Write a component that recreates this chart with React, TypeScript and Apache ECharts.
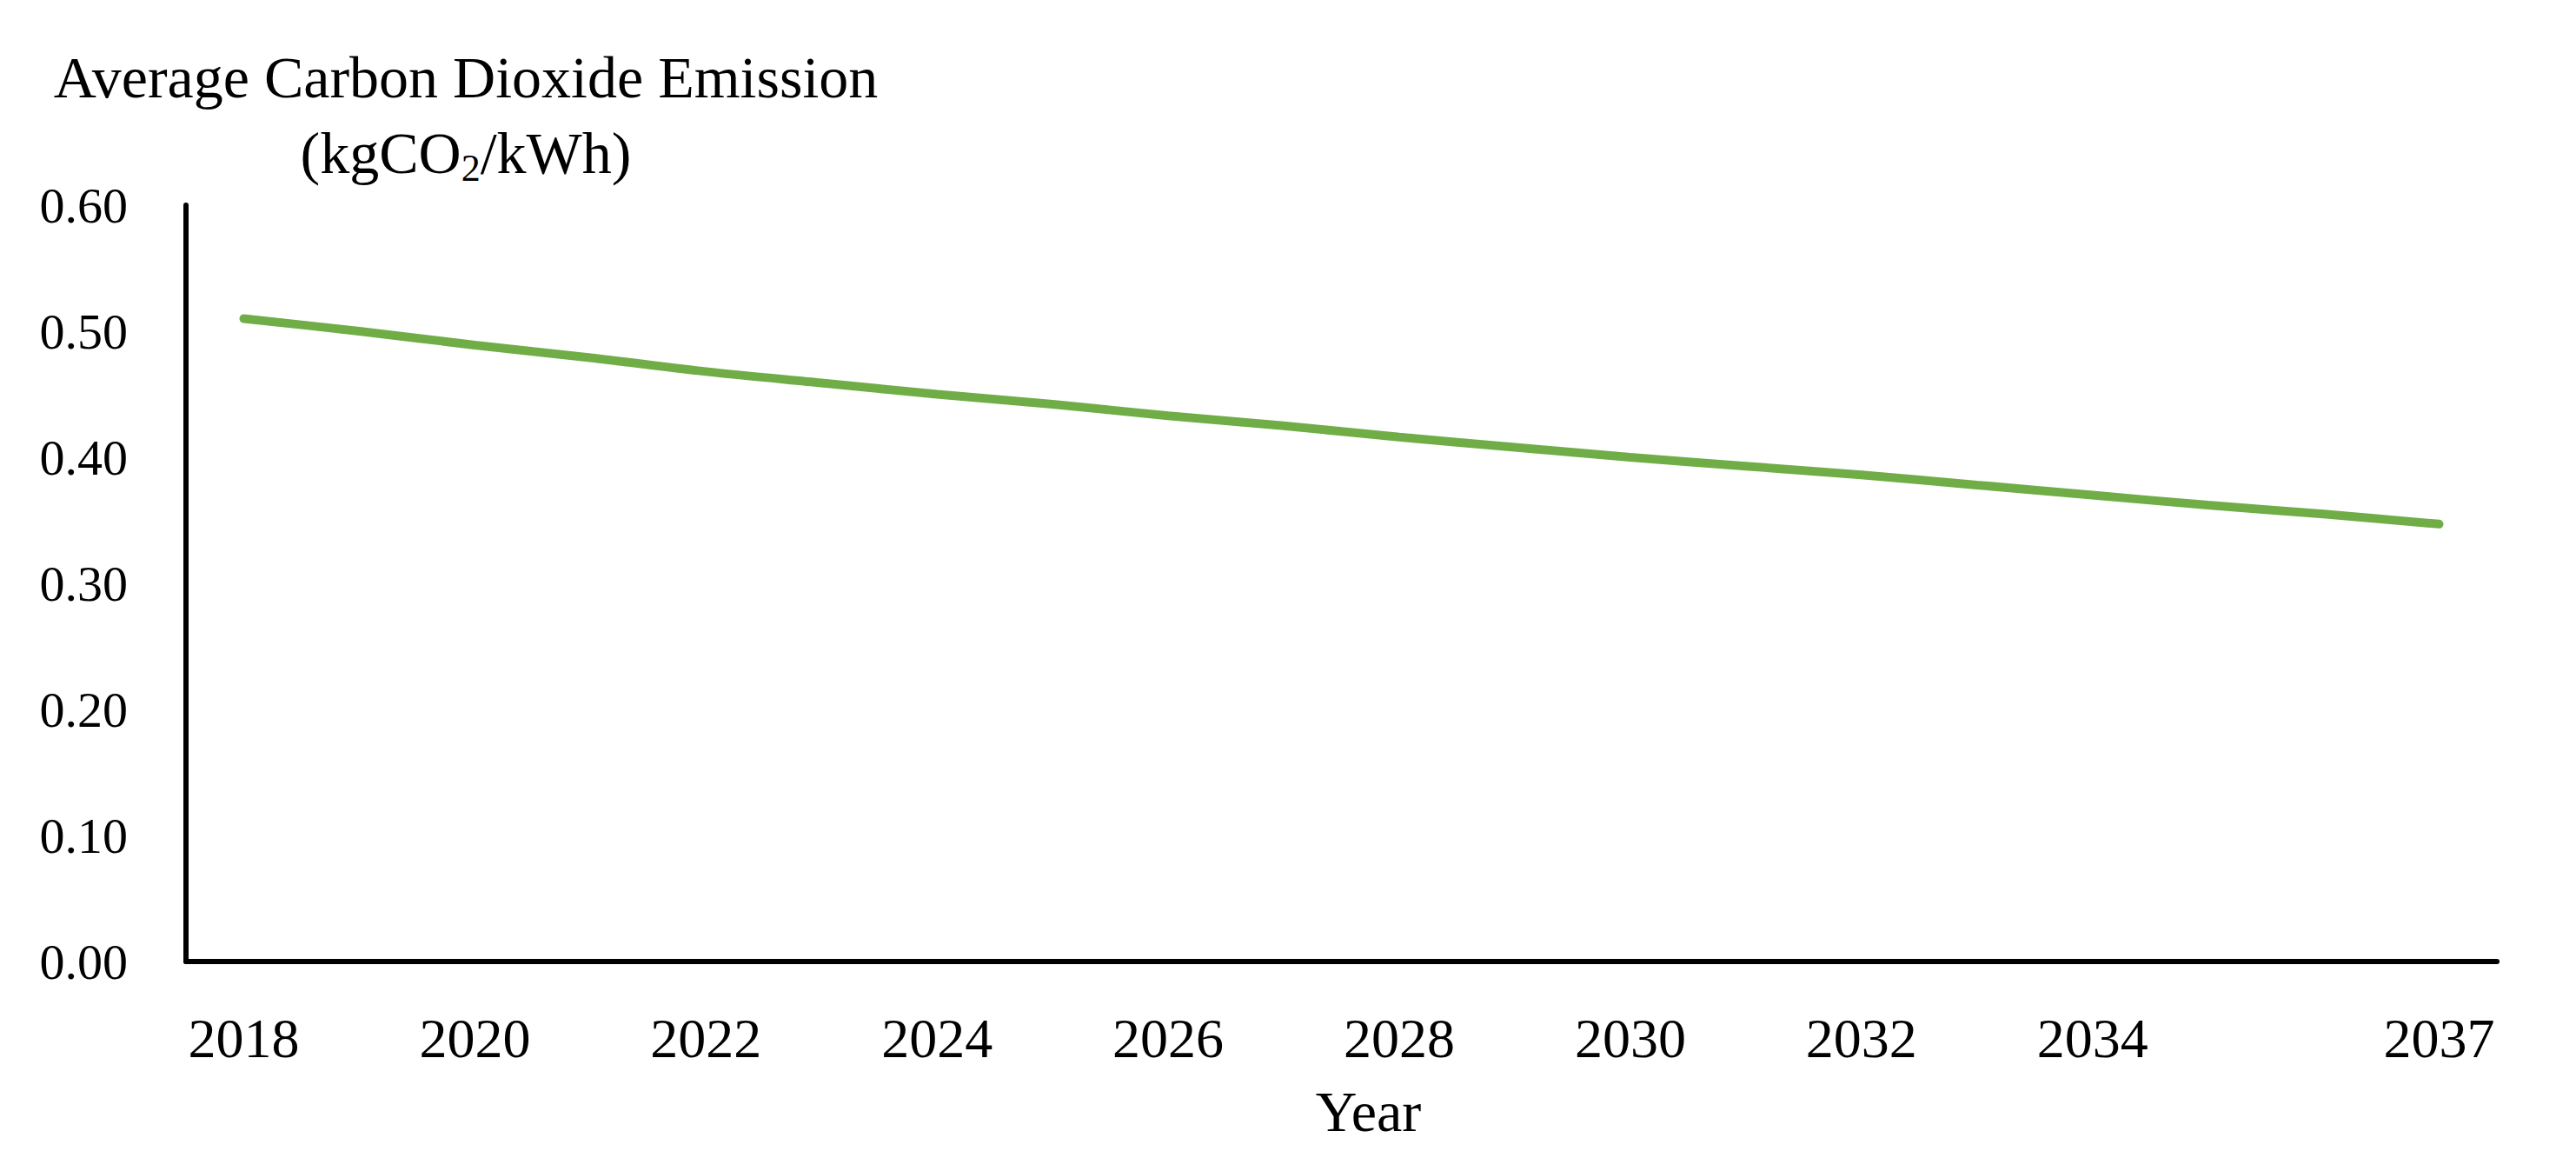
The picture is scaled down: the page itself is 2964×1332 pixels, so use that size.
import React, { useEffect, useRef } from "react";
import * as echarts from "echarts";

const years = [
  "2018", "2019", "2020", "2021", "2022", "2023", "2024", "2025", "2026", "2027",
  "2028", "2029", "2030", "2031", "2032", "2033", "2034", "2035", "2036", "2037",
];
const emissions = [
  0.510, 0.500, 0.489, 0.479, 0.468, 0.459, 0.450, 0.442, 0.433, 0.425,
  0.416, 0.408, 0.400, 0.393, 0.386, 0.378, 0.370, 0.362, 0.355, 0.347,
];
const yTicks = { min: 0, max: 0.6, interval: 0.1 };
const titleLine1 = "Average Carbon Dioxide Emission";
const titleLine2 = "{a|(kgCO}{s|2}{a|/kWh)}";
const xName = "Year";

const FONT = "Liberation Serif";

export default function App() {
  const ref = useRef<HTMLDivElement>(null);
  useEffect(() => {
    const chart = echarts.init(ref.current!, null, { renderer: "svg" });
    chart.setOption({
      animation: false,
      backgroundColor: "#ffffff",
      grid: { left: 214, right: 91, top: 236, bottom: 226, containLabel: false },
      xAxis: {
        type: "category",
        data: years,
        boundaryGap: true,
        name: xName,
        nameLocation: "middle",
        nameGap: 139,
        nameTextStyle: { fontFamily: FONT, fontSize: 66, color: "#000", padding: [0, 0, 0, 62] },
        axisLine: { show: true, lineStyle: { color: "#000", width: 6 } },
        axisTick: { show: false },
        axisLabel: {
          interval: (i: number) => (i % 2 === 0 && i <= 16) || i === years.length - 1,
          fontFamily: FONT,
          fontSize: 64,
          color: "#000",
          margin: 56,
        },
        splitLine: { show: false },
      },
      yAxis: {
        type: "value",
        min: yTicks.min,
        max: yTicks.max,
        interval: yTicks.interval,
        axisLine: { show: true, lineStyle: { color: "#000", width: 6 } },
        axisTick: { show: false },
        splitLine: { show: false },
        axisLabel: {
          formatter: (v: number) => v.toFixed(2),
          fontFamily: FONT,
          fontSize: 58,
          color: "#000",
          margin: 67,
        },
      },
      series: [
        {
          type: "line",
          data: emissions,
          smooth: 0.3,
          showSymbol: false,
          symbol: "none",
          lineStyle: { color: "#70AD47", width: 10, cap: "round" },
        },
      ],
      graphic: [
        {
          type: "text",
          x: 536,
          y: 89,
          style: {
            text: titleLine1,
            fontFamily: FONT,
            fontSize: 68,
            fill: "#000",
            textAlign: "center",
            textVerticalAlign: "middle",
          },
        },
        {
          type: "text",
          x: 536,
          y: 176,
          style: {
            text: titleLine2,
            textAlign: "center",
            textVerticalAlign: "middle",
            rich: {
              a: { fontFamily: FONT, fontSize: 68, fill: "#000", lineHeight: 78, verticalAlign: "middle" },
              s: { fontFamily: FONT, fontSize: 44, fill: "#000", lineHeight: 78, verticalAlign: "bottom" },
            },
          },
        },
      ],
    });
    return () => chart.dispose();
  }, []);
  return (
    <div
      ref={ref}
      style={{ position: "fixed", left: 0, top: 0, width: "2964px", height: "1332px", background: "#fff" }}
    />
  );
}
